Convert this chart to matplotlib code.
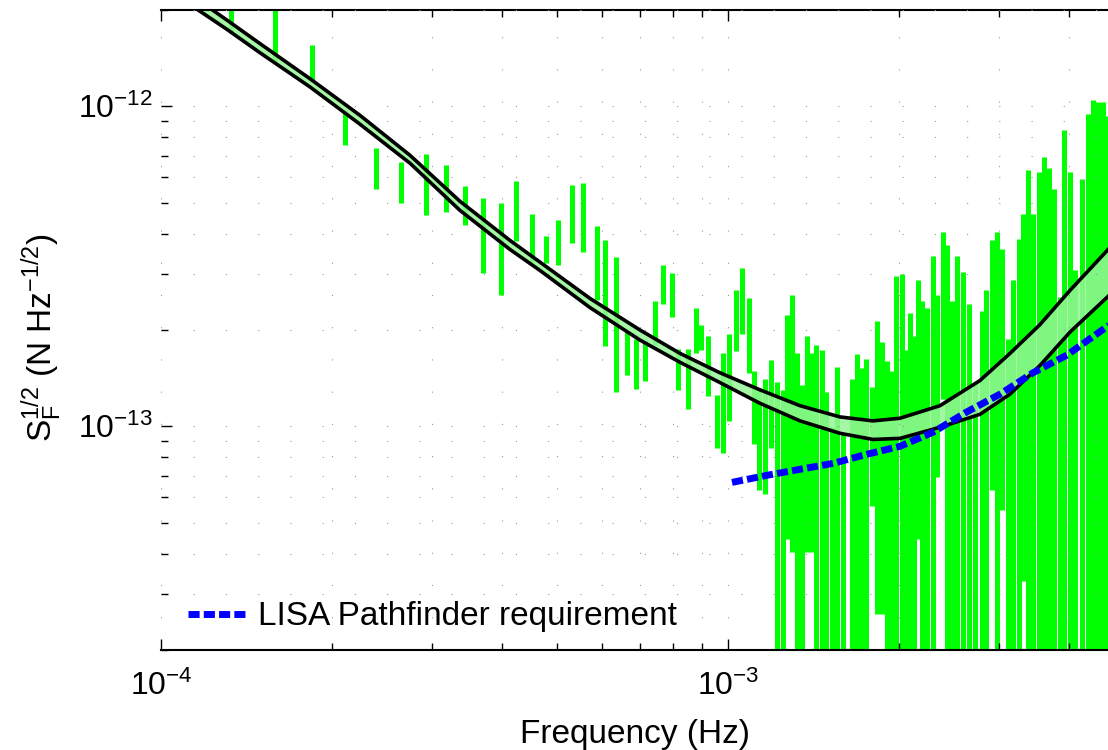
import matplotlib
matplotlib.use('Agg')
import matplotlib.pyplot as plt
from matplotlib.ticker import NullFormatter

plt.rcParams['font.family'] = ['Liberation Sans', 'DejaVu Sans']
plt.rcParams['mathtext.fontset'] = 'custom'
plt.rcParams['mathtext.rm'] = 'Liberation Sans'
plt.rcParams['mathtext.it'] = 'Liberation Sans:italic'
plt.rcParams['mathtext.bf'] = 'Liberation Sans:bold'

# measured force noise: one error bar per frequency bin (lower / upper end)
bar_freq = [1.33e-4, 1.59e-4, 1.85e-4, 2.11e-4, 2.39e-4, 2.65e-4, 2.93e-4, 3.18e-4, 3.44e-4, 3.70e-4,
            3.98e-4, 4.23e-4, 4.51e-4, 4.78e-4, 5.01e-4, 5.31e-4, 5.55e-4, 5.87e-4, 6.07e-4, 6.35e-4,
            6.64e-4, 6.88e-4, 7.14e-4, 7.43e-4, 7.68e-4, 7.97e-4, 8.16e-4, 8.50e-4, 8.78e-4, 8.96e-4,
            9.22e-4, 9.56e-4, 9.80e-4, 1.004e-3, 1.033e-3, 1.058e-3, 1.089e-3, 1.111e-3, 1.134e-3, 1.162e-3,
            1.191e-3, 1.220e-3, 1.250e-3, 1.271e-3, 1.297e-3, 1.323e-3, 1.350e-3, 1.378e-3, 1.406e-3, 1.429e-3,
            1.465e-3, 1.489e-3, 1.526e-3, 1.557e-3, 1.595e-3, 1.655e-3, 1.689e-3, 1.723e-3, 1.751e-3, 1.795e-3,
            1.831e-3, 1.869e-3, 1.907e-3, 1.946e-3, 1.978e-3, 2.027e-3, 2.052e-3, 2.094e-3, 2.128e-3, 2.163e-3,
            2.199e-3, 2.244e-3, 2.299e-3, 2.337e-3, 2.395e-3, 2.434e-3, 2.484e-3, 2.535e-3, 2.597e-3, 2.661e-3,
            2.727e-3, 2.805e-3, 2.851e-3, 2.921e-3, 2.981e-3, 3.042e-3, 3.117e-3, 3.181e-3, 3.260e-3, 3.313e-3,
            3.381e-3, 3.451e-3, 3.536e-3, 3.608e-3, 3.682e-3, 3.758e-3, 3.851e-3, 3.914e-3, 4.011e-3, 4.093e-3,
            4.211e-3, 4.315e-3, 4.403e-3, 4.494e-3, 4.586e-3, 4.661e-3]
bar_hi = [2.1e-12, 2.1e-12, 1.55e-12, 9.72e-13, 7.39e-13, 6.68e-13, 7.08e-13, 6.54e-13, 5.62e-13, 5.16e-13,
          4.98e-13, 5.83e-13, 4.60e-13, 3.93e-13, 4.40e-13, 5.66e-13, 5.75e-13, 4.22e-13, 3.81e-13, 3.37e-13,
          1.97e-13, 1.88e-13, 1.86e-13, 2.46e-13, 3.19e-13, 3.01e-13, 1.75e-13, 1.75e-13, 2.35e-13, 2.07e-13,
          1.91e-13, 1.25e-13, 1.70e-13, 1.94e-13, 2.66e-13, 3.12e-13, 2.51e-13, 1.49e-13, 1.32e-13, 1.41e-13,
          1.61e-13, 1.38e-13, 1.30e-13, 2.22e-13, 2.57e-13, 1.69e-13, 1.35e-13, 1.91e-13, 1.69e-13, 1.80e-13,
          1.73e-13, 1.28e-13, 9.93e-14, 1.53e-13, 9.58e-14, 1.41e-13, 1.68e-13, 1.52e-13, 1.62e-13, 1.33e-13,
          2.14e-13, 1.83e-13, 1.60e-13, 1.49e-13, 2.94e-13, 2.99e-13, 1.73e-13, 2.26e-13, 1.91e-13, 2.86e-13,
          2.46e-13, 2.35e-13, 3.40e-13, 2.57e-13, 4.04e-13, 3.68e-13, 2.46e-13, 3.40e-13, 3.03e-13, 2.42e-13,
          1.37e-13, 2.30e-13, 2.66e-13, 3.81e-13, 4.04e-13, 3.57e-13, 1.88e-13, 2.86e-13, 3.84e-13, 4.60e-13,
          6.31e-13, 4.60e-13, 6.22e-13, 6.93e-13, 6.40e-13, 5.50e-13, 2.53e-13, 8.41e-13, 6.22e-13, 3.07e-13,
          5.92e-13, 9.44e-13, 1.05e-12, 1.03e-12, 1.03e-12, 9.31e-13]
bar_lo = [1.69e-12, 1.39e-12, 1.19e-12, 7.55e-13, 5.50e-13, 4.98e-13, 4.56e-13, 4.66e-13, 4.25e-13, 3.01e-13,
          2.57e-13, 3.79e-13, 3.26e-13, 3.23e-13, 3.19e-13, 3.73e-13, 3.50e-13, 2.48e-13, 1.78e-13, 1.28e-13,
          1.45e-13, 1.31e-13, 1.39e-13, 1.79e-13, 2.42e-13, 2.19e-13, 1.30e-13, 1.13e-13, 1.69e-13, 1.73e-13,
          1.24e-13, 8.53e-14, 8.24e-14, 1.04e-13, 1.72e-13, 1.95e-13, 1.47e-13, 8.78e-14, 6.31e-14, 6.13e-14,
          8.53e-14, 1e-15, 1e-15, 4.43e-14, 4.04e-14, 1e-15, 1e-15, 4.04e-14, 4.04e-14, 1e-15,
          1e-15, 1e-15, 1e-15, 1e-15, 1e-15, 1e-15, 1e-15, 1e-15, 1e-15, 5.62e-14,
          2.59e-14, 2.59e-14, 1e-15, 1e-15, 1e-15, 1e-15, 1e-15, 1e-15, 1e-15, 4.43e-14,
          1e-15, 1e-15, 1e-15, 6.93e-14, 1.22e-13, 1e-15, 1e-15, 1e-15, 1e-15, 1e-15,
          1e-15, 1e-15, 1e-15, 6.31e-14, 1e-15, 5.46e-14, 1e-15, 1e-15, 1e-15, 3.28e-14,
          1e-15, 1e-15, 1e-15, 1e-15, 1e-15, 1e-15, 1e-15, 1e-15, 1e-15, 1e-15,
          1e-15, 1e-15, 1e-15, 1e-15, 1e-15, 1e-15]

# model band
model_freq = [1.125e-4, 1.307e-4, 1.495e-4, 1.831e-4, 2.244e-4, 2.749e-4, 3.367e-4, 4.126e-4, 4.660e-4, 5.710e-4,
              6.995e-4, 8.230e-4, 9.680e-4, 1.139e-3, 1.340e-3, 1.576e-3, 1.802e-3, 2.011e-3, 2.365e-3, 2.782e-3,
              3.143e-3, 3.551e-3, 4.011e-3, 4.717e-3]
model_upper = [2.24e-12, 1.86e-12, 1.57e-12, 1.22e-12, 9.37e-13, 7.03e-13, 5.05e-13, 3.81e-13, 3.26e-13, 2.51e-13,
               2.00e-13, 1.69e-13, 1.47e-13, 1.30e-13, 1.16e-13, 1.07e-13, 1.04e-13, 1.06e-13, 1.16e-13, 1.39e-13,
               1.69e-13, 2.08e-13, 2.66e-13, 3.62e-13]
model_lower = [2.08e-12, 1.74e-12, 1.47e-12, 1.15e-12, 8.79e-13, 6.64e-13, 4.73e-13, 3.57e-13, 3.07e-13, 2.35e-13,
               1.86e-13, 1.585e-13, 1.37e-13, 1.18e-13, 1.04e-13, 9.51e-14, 9.10e-14, 9.17e-14, 9.93e-14, 1.09e-13,
               1.26e-13, 1.55e-13, 1.97e-13, 2.58e-13]

# LISA Pathfinder requirement
req_freq = [1.0165e-3, 1.172e-3, 1.340e-3, 1.532e-3, 1.758e-3, 2.011e-3, 2.299e-3, 2.639e-3, 3.018e-3, 3.451e-3,
            3.962e-3, 4.717e-3]
req_val = [6.68e-14, 7.03e-14, 7.34e-14, 7.66e-14, 8.18e-14, 8.66e-14, 9.58e-14, 1.11e-13, 1.26e-13, 1.47e-13,
           1.67e-13, 2.08e-13]

xtick_vals = [1e-4, 1e-3]
xtick_labels = [r'$\mathregular{10^{-4}}$', r'$\mathregular{10^{-3}}$']
ytick_vals = [1e-13, 1e-12]
ytick_labels = [r'$\mathregular{10^{-13}}$', r'$\mathregular{10^{-12}}$']

fig = plt.figure(figsize=(11.08, 7.5), dpi=100)
ax = fig.add_axes([161 / 1108, 100 / 750, 947 / 1108, 640 / 750])

ax.vlines(bar_freq, bar_lo, bar_hi, colors='#00ff00', linewidth=3.6, zorder=1)
ax.fill_between(model_freq, model_lower, model_upper, color='#96f596', alpha=0.85, lw=0, zorder=2)
ax.plot(model_freq, model_upper, color='black', lw=2.6, zorder=3)
ax.plot(model_freq, model_lower, color='black', lw=2.6, zorder=3)
ax.plot(req_freq, req_val, color='#0000ff', lw=5, dashes=(1.6, 0.6), zorder=4,
        label='LISA Pathfinder requirement')

ax.set_xscale('log')
ax.set_yscale('log')
ax.set_xlim(1e-4, 4.68e-3)
ax.set_ylim(2e-14, 2e-12)

ax.set_xticks(xtick_vals)
ax.set_xticklabels(xtick_labels)
ax.set_yticks(ytick_vals)
ax.set_yticklabels(ytick_labels)
ax.xaxis.set_minor_formatter(NullFormatter())
ax.yaxis.set_minor_formatter(NullFormatter())
ax.tick_params(which='both', direction='in', top=True, right=False, labelsize=23, width=1)
ax.tick_params(which='major', length=8)
ax.tick_params(which='minor', length=5)
ax.tick_params(axis='x', which='major', pad=15)
ax.tick_params(axis='y', which='major', pad=6)

ax.spines['left'].set_visible(False)
ax.spines['right'].set_visible(False)
ax.spines['top'].set_linewidth(1.5)
ax.spines['bottom'].set_linewidth(1.5)

ax.set_axisbelow(False)
ax.grid(True, which='both', color='#999999', linestyle=(0, (1, 28)), linewidth=0.8)

ax.set_xlabel('Frequency (Hz)', fontsize=24, labelpad=12)
ax.set_ylabel(r'$\mathregular{S_F^{1/2}\ (N\ Hz^{-1/2})}$', fontsize=24)
ax.yaxis.set_label_coords(-0.102, 0.489)

ax.legend(loc='center left', bbox_to_anchor=(0.0285, 0.052), frameon=False, fontsize=24,
          handlelength=1.7, handletextpad=0.4, borderpad=0, borderaxespad=0)

fig.savefig('out.png', dpi=100)
